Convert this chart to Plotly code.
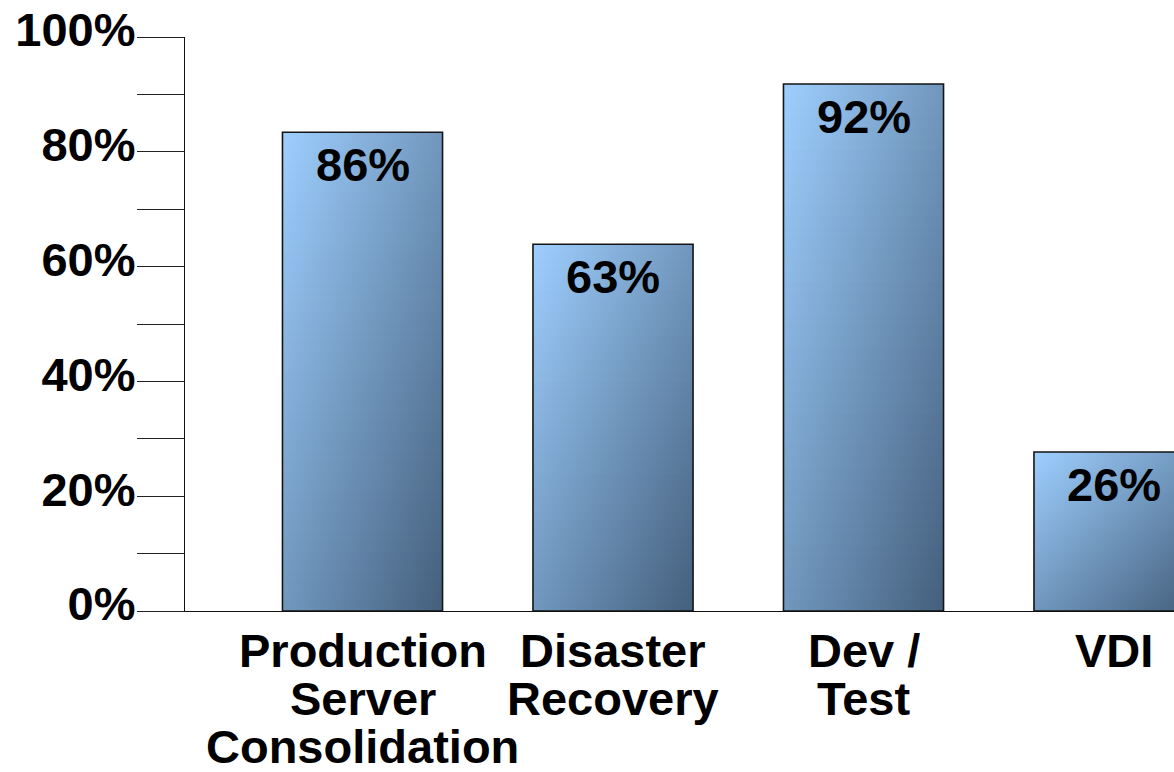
import plotly.graph_objects as go

# ---- data ----
categories = ["Production<br>Server<br>Consolidation", "Disaster<br>Recovery", "Dev /<br>Test", "VDI"]
bar_heights = [83.4, 63.9, 91.8, 27.7]          # drawn heights (as in picture)
bar_labels = ["86%", "63%", "92%", "26%"]       # printed labels
y_tick_vals = [0, 20, 40, 60, 80, 100]
y_tick_text = ["0%", "20%", "40%", "60%", "80%", "100%"]

# ---- style ----
FONT = "Arial, Liberation Sans, sans-serif"
FS = 47
BAR_W = 0.639
C_LIGHT = (158, 207, 255)
C_DARK = (68, 95, 124)
N_STRIPS = 48


def mix(t):
    r, g, b = (round(a + (bb - a) * t) for a, bb in zip(C_LIGHT, C_DARK))
    return f"rgb({r},{g},{b})"


xs = list(range(len(categories)))
fig = go.Figure()

# base bar trace (structure only; gradient + outline drawn on top)
fig.add_trace(go.Bar(
    x=xs, y=bar_heights, width=BAR_W,
    marker=dict(color="rgba(255,255,255,0)", line=dict(width=0)),
    showlegend=False, hoverinfo="skip",
))

# gradient fills (diagonal: light top-left -> dark bottom-right)
for i, v in zip(xs, bar_heights):
    x0, x1 = i - BAR_W / 2, i + BAR_W / 2
    for k in range(N_STRIPS):
        y0 = v * k / N_STRIPS
        y1 = min(v, v * (k + 1) / N_STRIPS + 0.35)
        vf = 1 - ((k + 0.5) / N_STRIPS)  # fraction from top
        tl, tr = vf / 2, (1 + vf) / 2
        fig.add_trace(go.Scatter(
            x=[x0, x1, x1, x0, x0], y=[y0, y0, y1, y1, y0],
            mode="none", fill="toself",
            fillgradient=dict(type="horizontal", colorscale=[[0, mix(tl)], [1, mix(tr)]]),
            showlegend=False, hoverinfo="skip",
        ))

# bar outlines (on top of the fills)
for i, v in zip(xs, bar_heights):
    x0, x1 = i - BAR_W / 2, i + BAR_W / 2
    fig.add_trace(go.Scatter(
        x=[x0, x1, x1, x0, x0], y=[0, 0, v, v, 0], mode="lines",
        line=dict(color="#151515", width=1.6),
        showlegend=False, hoverinfo="skip",
    ))

# value labels inside bars
for i, v, lab in zip(xs, bar_heights, bar_labels):
    fig.add_annotation(x=i, y=v, xref="x", yref="y", text=lab, showarrow=False,
                       yanchor="top", yshift=-4,
                       font=dict(family=FONT, size=FS, color="black", weight="bold"))

# category labels, line by line
LINE_SP = 48
for i, cat in zip(xs, categories):
    for j, line in enumerate(cat.split("<br>")):
        fig.add_annotation(x=i, y=0, xref="x", yref="y", text=line, showarrow=False,
                           yanchor="top", yshift=-(11 + j * LINE_SP),
                           font=dict(family=FONT, size=FS, color="black", weight="bold"))

fig.update_layout(
    width=1174, height=772,
    margin=dict(l=185, r=0, t=37, b=161),
    plot_bgcolor="white", paper_bgcolor="white",
    xaxis=dict(range=[-0.7086, 3.2395], showgrid=False, zeroline=False,
               showline=True, linecolor="#111", linewidth=1.2,
               showticklabels=False, ticks=""),
    yaxis=dict(range=[0, 100], showgrid=False, zeroline=False,
               showline=True, linecolor="#111", linewidth=1.2,
               tickvals=y_tick_vals, ticktext=y_tick_text,
               ticks="outside", ticklen=47, tickwidth=1, tickcolor="#222",
               ticklabelstandoff=-8, ticklabelshift=-7,
               minor=dict(dtick=10, ticks="outside", ticklen=47, tickwidth=1, tickcolor="#222"),
               tickfont=dict(family=FONT, size=FS, color="black", weight="bold")),
)

fig.write_html("out.html")
